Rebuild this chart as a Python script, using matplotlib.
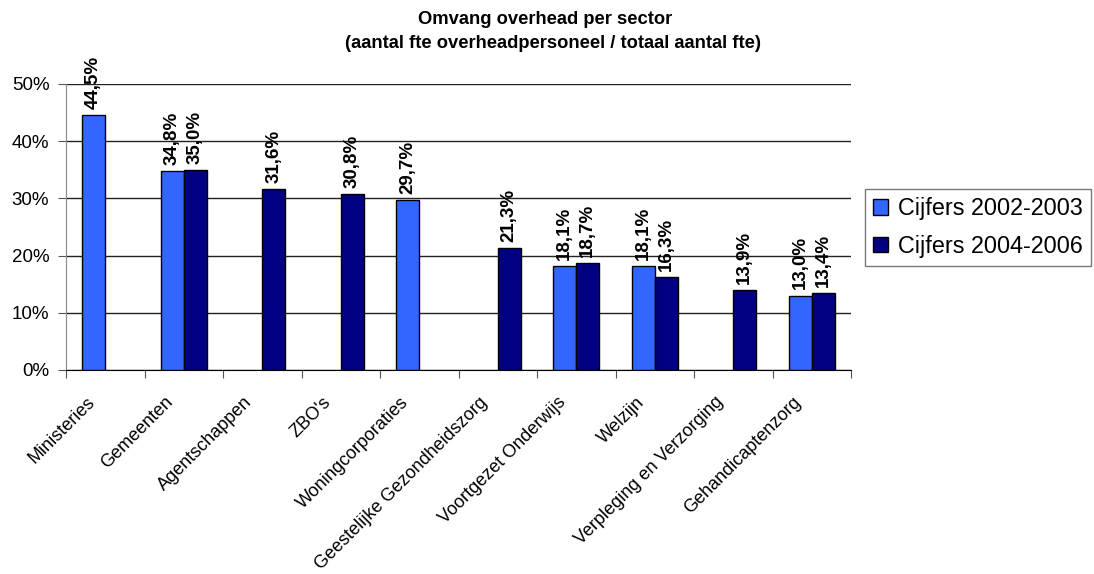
import numpy as np
import matplotlib
matplotlib.use("Agg")
import matplotlib.pyplot as plt
import matplotlib.transforms as mtransforms
from matplotlib.patches import Patch

plt.rcParams['font.family'] = ['Liberation Sans', 'DejaVu Sans']

# Data (percentage of fte, None = no figure)
sectors = ["Ministeries", "Gemeenten", "Agentschappen", "ZBO's", "Woningcorporaties",
           "Geestelijke Gezondheidszorg", "Voortgezet Onderwijs", "Welzijn",
           "Verpleging en Verzorging", "Gehandicaptenzorg"]
cijfers_2002_2003 = [44.5, 34.8, None, None, 29.7, None, 18.1, 18.1, None, 13.0]
cijfers_2004_2006 = [None, 35.0, 31.6, 30.8, None, 21.3, 18.7, 16.3, 13.9, 13.4]
series_names = ["Cijfers 2002-2003", "Cijfers 2004-2006"]
colors = ["#3366FF", "#000080"]

fig = plt.figure(figsize=(10.94, 5.74), dpi=100)
ax = fig.add_axes([66/1094, 1-370/574, (851-66)/1094, (370-84)/574])

x = np.arange(len(sectors))
w = 0.293
for k, (vals, col) in enumerate(zip([cijfers_2002_2003, cijfers_2004_2006], colors)):
    off = -w/2 if k == 0 else w/2
    for i, v in enumerate(vals):
        if v is None:
            continue
        ax.bar(x[i] + off, v/100, width=w, color=col, edgecolor='black', linewidth=1, zorder=3)
        ax.annotate(f"{v:.1f}%".replace('.', ','), (x[i] + off, v/100),
                    xytext=(0, 4.5), textcoords='offset points', rotation=90,
                    ha='center', va='bottom', fontsize=13.5, fontweight='bold')

ax.set_xlim(-0.5, len(sectors) - 0.5)
ax.set_ylim(0, 0.5)
ax.set_yticks(np.arange(0, 0.51, 0.1))
ax.set_yticklabels([f"{int(round(t*100))}%" for t in np.arange(0, 0.51, 0.1)], fontsize=13.5)
ax.yaxis.grid(True, color='#222222', linewidth=1)
ax.set_axisbelow(True)

# category boundary ticks like Excel
ax.set_xticks(np.arange(-0.5, len(sectors), 1.0))
ax.set_xticklabels([])
ax.set_xticks(x, minor=True)
ax.set_xticklabels(sectors, minor=True, rotation=45, ha='right', va='top',
                   rotation_mode='anchor', fontsize=13)
ax.tick_params(axis='x', which='minor', length=0, pad=12)
ax.tick_params(axis='x', which='major', length=6, direction='out', color='#555555')
ax.tick_params(axis='y', length=6, direction='out', color='#555555', pad=6)
shift = mtransforms.ScaledTranslation(-19/100, -7/100, fig.dpi_scale_trans)
for lab in ax.get_xticklabels(minor=True):
    lab.set_transform(lab.get_transform() + shift)

for s in ['top', 'right']:
    ax.spines[s].set_visible(False)
ax.spines['left'].set_color('#888888')
ax.spines['bottom'].set_color('black')

fig.text(545/1094, 1-20/574, "Omvang overhead per sector", ha='center', va='center',
         fontsize=13.2, fontweight='bold')
fig.text(553/1094, 1-43/574, "(aantal fte overheadpersoneel / totaal aantal fte)", ha='center',
         va='center', fontsize=13.2, fontweight='bold')

handles = [Patch(facecolor=c, edgecolor='black', linewidth=1) for c in colors]
leg = fig.legend(handles, series_names, loc='upper left', bbox_to_anchor=(865/1094, 1-189/574),
                 fontsize=16.8, frameon=True, fancybox=False, handlelength=0.65, handleheight=0.65,
                 handletextpad=0.4, labelspacing=0.62, borderpad=0.35, borderaxespad=0)
leg.get_frame().set_edgecolor('#555555')
leg.get_frame().set_linewidth(1)

fig.savefig("out.png", dpi=100)
